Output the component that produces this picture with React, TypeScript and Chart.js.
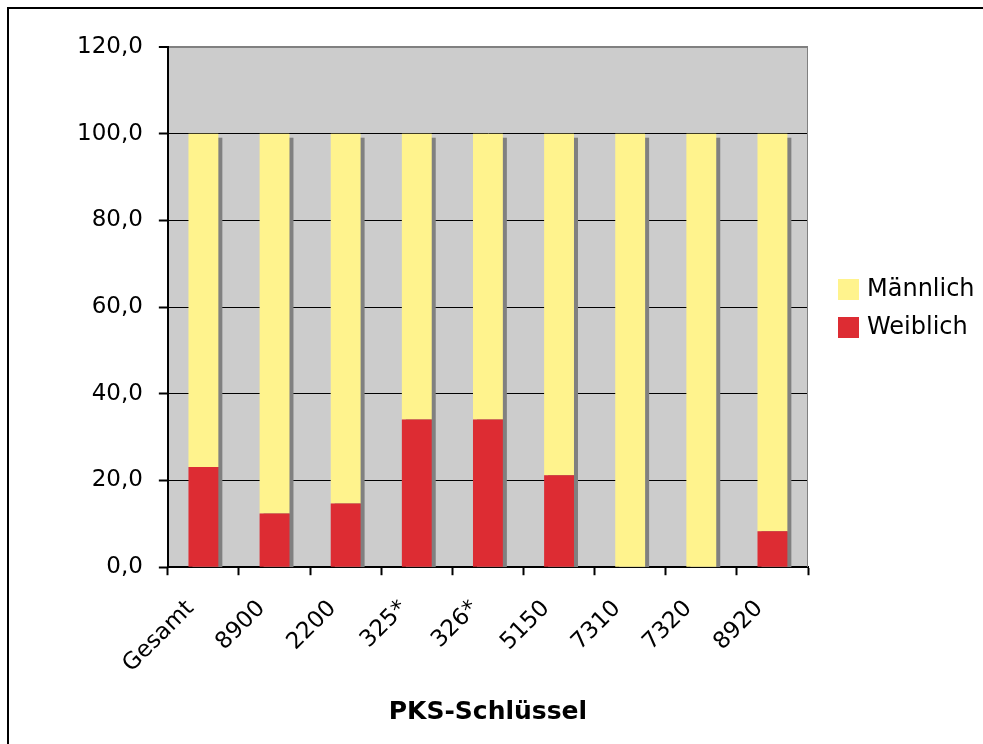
import React, { useEffect, useRef } from 'react';
import { Chart, registerables } from 'chart.js';

Chart.register(...registerables);

const categories = ['Gesamt', '8900', '2200', '325*', '326*', '5150', '7310', '7320', '8920'];
const weiblich = [23.1, 12.4, 14.7, 34.1, 34.1, 21.2, 0, 0, 8.3];
const maennlich = [76.9, 87.6, 85.3, 65.9, 65.9, 78.8, 100, 100, 91.7];
const seriesLabels = ['Weiblich', 'Männlich'];
const yMin = 0;
const yMax = 120;
const yStep = 20;
const xAxisTitle = 'PKS-Schlüssel';

const FONT = "'DejaVu Sans', Verdana, sans-serif";
const RED = '#DD2C33';
const YELLOW = '#FFF38D';
const PLOT_BG = '#CCCCCC';
const SHADOW = '#808080';

const framePlugin = {
  id: 'framePlugin',
  beforeDraw(chart: any) {
    const { ctx, chartArea } = chart;
    ctx.save();
    ctx.fillStyle = '#ffffff';
    ctx.fillRect(0, 0, chart.width, chart.height);
    ctx.fillStyle = '#000000';
    ctx.fillRect(7, 7, chart.width - 7, 2);
    ctx.fillRect(7, 7, 2, chart.height - 7);
    ctx.fillStyle = PLOT_BG;
    ctx.fillRect(chartArea.left, chartArea.top, chartArea.right - chartArea.left, chartArea.bottom - chartArea.top);
    ctx.restore();
  },
  beforeDatasetsDraw(chart: any) {
    const { ctx, chartArea } = chart;
    const yScale = chart.scales.y;
    const base = yScale.getPixelForValue(0);
    const meta = chart.getDatasetMeta(chart.data.datasets.length - 1);
    ctx.save();
    ctx.beginPath();
    ctx.rect(chartArea.left, chartArea.top, chartArea.right - chartArea.left, chartArea.bottom - chartArea.top);
    ctx.clip();
    ctx.fillStyle = SHADOW;
    meta.data.forEach((bar: any) => {
      const p = bar.getProps(['x', 'y', 'width'], true);
      ctx.fillRect(p.x - p.width / 2 + 4, p.y + 4, p.width, base - p.y - 4);
    });
    ctx.fillRect(chartArea.right - 1, chartArea.top, 2, chartArea.bottom - chartArea.top);
    ctx.restore();
  },
  afterDraw(chart: any) {
    const { ctx } = chart;
    const ds = chart.data.datasets.slice().reverse();
    ctx.save();
    ctx.font = `24px ${FONT}`;
    ctx.textBaseline = 'middle';
    ctx.textAlign = 'left';
    ds.forEach((d: any, i: number) => {
      const top = 279 + i * 38;
      ctx.fillStyle = d.backgroundColor;
      ctx.fillRect(838, top, 21, 21);
      ctx.fillStyle = '#000000';
      ctx.fillText(d.label, 867, top + 11);
    });
    ctx.restore();
  },
};

export default function App() {
  const ref = useRef<HTMLCanvasElement | null>(null);

  useEffect(() => {
    if (!ref.current) return;
    Chart.defaults.font.family = FONT;
    Chart.defaults.color = '#000000';
    const chart = new Chart(ref.current, {
      type: 'bar',
      data: {
        labels: categories,
        datasets: [
          { label: seriesLabels[0], data: weiblich, backgroundColor: RED, borderWidth: 0 },
          { label: seriesLabels[1], data: maennlich, backgroundColor: YELLOW, borderWidth: 0 },
        ],
      },
      options: {
        responsive: false,
        animation: false,
        devicePixelRatio: 1,
        layout: { padding: { left: 61, right: 175, top: 47, bottom: 0 } },
        datasets: { bar: { categoryPercentage: 1, barPercentage: 0.42 } },
        plugins: { legend: { display: false }, tooltip: { enabled: false } },
        scales: {
          x: {
            stacked: true,
            grid: {
              display: true,
              drawOnChartArea: false,
              offset: true,
              tickLength: 8,
              tickColor: '#000000',
              tickWidth: 2,
            },
            border: { display: true, color: '#000000', width: 2 },
            ticks: {
              minRotation: 45,
              maxRotation: 45,
              autoSkip: false,
              padding: 20,
              labelOffset: -13,
              color: '#000000',
              font: { size: 23, family: FONT },
            },
            title: {
              display: true,
              text: xAxisTitle,
              color: '#000000',
              font: { size: 25, weight: 'bold', family: FONT },
              padding: { top: -1, bottom: 17 },
            },
          },
          y: {
            stacked: true,
            min: yMin,
            max: yMax,
            grid: {
              color: (c: any) => (c.tick && c.tick.value === yMax ? '#808080' : '#000000'),
              lineWidth: (c: any) => (c.tick && c.tick.value === yMax ? 2 : 1),
              tickColor: '#000000',
              tickWidth: 2,
              tickLength: 9,
            },
            border: { display: true, color: '#000000', width: 2 },
            ticks: {
              stepSize: yStep,
              padding: 16,
              color: '#000000',
              font: { size: 23, family: FONT },
              callback: (v: any) => Number(v).toFixed(1).replace('.', ','),
            },
          },
        },
      },
      plugins: [framePlugin],
    } as any);
    return () => chart.destroy();
  }, []);

  return (
    <div style={{ position: 'fixed', left: 0, top: 0, width: 983, height: 744, overflow: 'hidden' }}>
      <canvas ref={ref} width={983} height={744} style={{ width: 983, height: 744, display: 'block' }} />
    </div>
  );
}
